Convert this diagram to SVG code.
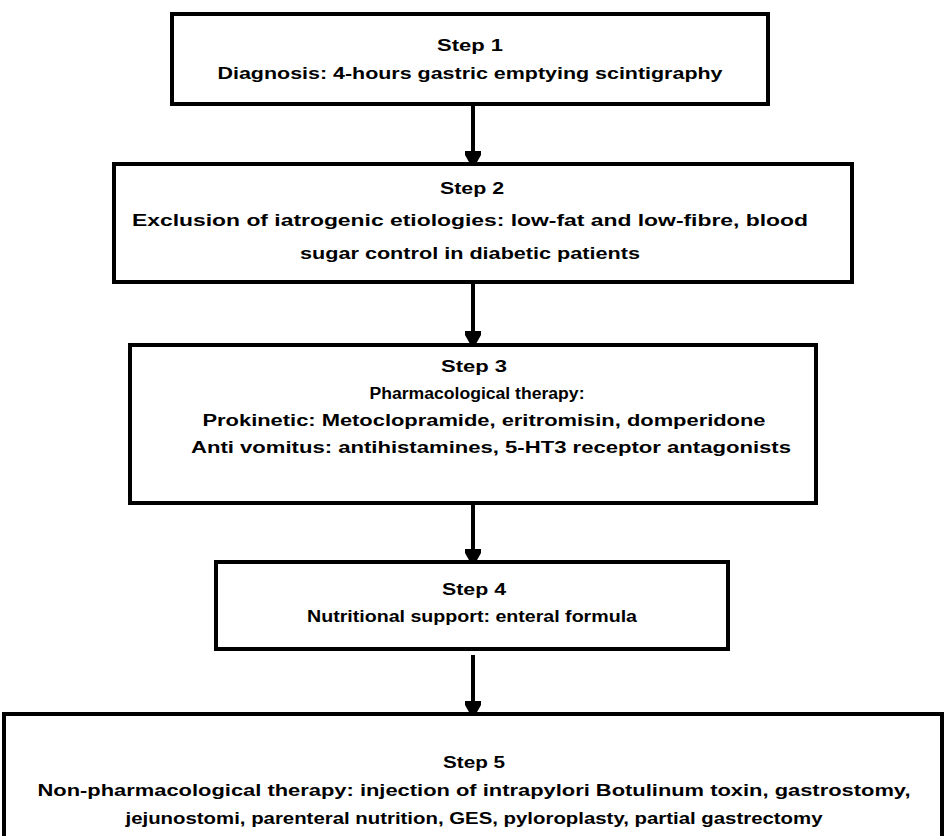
<svg xmlns="http://www.w3.org/2000/svg" width="946" height="836" viewBox="0 0 946 836">
<defs>
<style>
.box{fill:#fff;stroke:#000;stroke-width:4}
.t{font-family:"Liberation Sans",Arial,sans-serif;font-weight:bold;font-size:16px;fill:#000;text-anchor:middle}
.c{stroke:#000;stroke-width:4;fill:none}
</style>
<marker id="ah" markerWidth="4" markerHeight="4" refX="2" refY="2" orient="auto" markerUnits="strokeWidth" viewBox="0 0 4 4">
<path d="M0,0.5 L4,0.5 L4,1.5 L2.6,4 L1.4,4 L0,1.5 Z" transform="rotate(-90 2 2)" fill="#000"/>
</marker>
</defs>
<rect width="946" height="836" fill="#fff"/>
<g id="connectors">
<line class="c" x1="473" y1="104" x2="473" y2="157" marker-end="url(#ah)"/>
<line class="c" x1="473" y1="282" x2="473" y2="337" marker-end="url(#ah)"/>
<line class="c" x1="473" y1="505" x2="473" y2="555" marker-end="url(#ah)"/>
<line class="c" x1="473" y1="655" x2="473" y2="707" marker-end="url(#ah)"/>
</g>
<g id="step1">
<rect class="box" x="172" y="14" width="596" height="90"/>
<text class="t" x="470" y="51" textLength="66" lengthAdjust="spacingAndGlyphs">Step 1</text>
<text class="t" x="470" y="79" textLength="505" lengthAdjust="spacingAndGlyphs">Diagnosis: 4-hours gastric emptying scintigraphy</text>
</g>
<g id="step2">
<rect class="box" x="114" y="164" width="738" height="118"/>
<text class="t" x="472" y="194" textLength="64" lengthAdjust="spacingAndGlyphs">Step 2</text>
<text class="t" x="470" y="226" textLength="676" lengthAdjust="spacingAndGlyphs">Exclusion of iatrogenic etiologies: low-fat and low-fibre, blood</text>
<text class="t" x="470" y="259" textLength="340" lengthAdjust="spacingAndGlyphs">sugar control in diabetic patients</text>
</g>
<g id="step3">
<rect class="box" x="130" y="345" width="686" height="158"/>
<text class="t" x="474" y="372" textLength="66" lengthAdjust="spacingAndGlyphs">Step 3</text>
<text class="t" x="477" y="399" textLength="215" lengthAdjust="spacingAndGlyphs">Pharmacological therapy:</text>
<text class="t" x="484" y="426" textLength="563" lengthAdjust="spacingAndGlyphs">Prokinetic: Metoclopramide, eritromisin, domperidone</text>
<text class="t" x="491" y="453" textLength="600" lengthAdjust="spacingAndGlyphs">Anti vomitus: antihistamines, 5-HT3 receptor antagonists</text>
</g>
<g id="step4">
<rect class="box" x="216" y="562" width="512" height="87"/>
<text class="t" x="474" y="595" textLength="64" lengthAdjust="spacingAndGlyphs">Step 4</text>
<text class="t" x="472" y="622" textLength="330" lengthAdjust="spacingAndGlyphs">Nutritional support: enteral formula</text>
</g>
<g id="step5">
<rect class="box" x="4" y="714" width="938" height="130"/>
<text class="t" x="474" y="768" textLength="62" lengthAdjust="spacingAndGlyphs">Step 5</text>
<text class="t" x="474" y="796" textLength="873" lengthAdjust="spacingAndGlyphs">Non-pharmacological therapy: injection of intrapylori Botulinum toxin, gastrostomy,</text>
<text class="t" x="474" y="824" textLength="697" lengthAdjust="spacingAndGlyphs">jejunostomi, parenteral nutrition, GES, pyloroplasty, partial gastrectomy</text>
</g>
</svg>
